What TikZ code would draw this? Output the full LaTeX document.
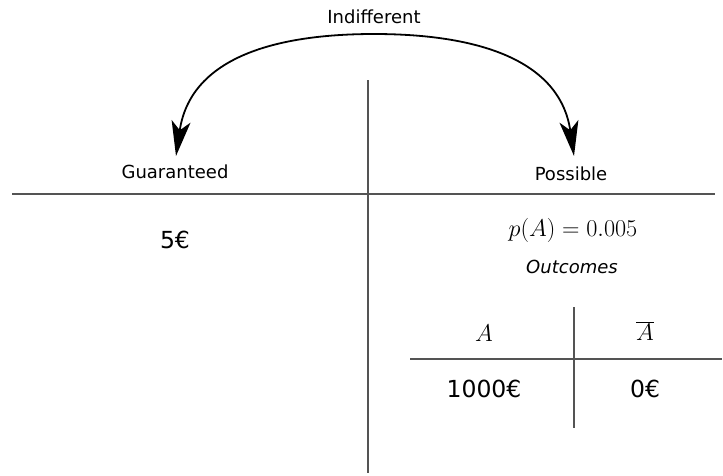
\documentclass[tikz,border=0pt]{standalone}
\usepackage{fontspec}
\setmainfont{DejaVu Sans}
\usetikzlibrary{arrows.meta}
\newcommand{\mbig}[1]{\scalebox{1.4}{$#1$}}
\begin{document}
\begin{tikzpicture}[x=1pt,y=-1pt,
  rule/.style={draw=black!67,line width=1.6pt},
  small/.style={font=\fontsize{18}{22}\selectfont},
  big/.style={font=\fontsize{23.5}{28}\selectfont},
  mathtxt/.style={font=\fontsize{17.28}{21}\selectfont},
  curved/.style={draw=black,line width=1.8pt,{Stealth[length=35pt,width=19pt,inset=9pt]}-{Stealth[length=35pt,width=19pt,inset=9pt]}}]
\useasboundingbox (0,0) rectangle (723,475);
% main cross
\coordinate (hl) at (12,194);
\coordinate (hr) at (715,194);
\coordinate (vt) at (368,80);
\coordinate (vb) at (368,473);
\draw[rule] (hl) -- (hr);
\draw[rule] (vt) -- (vb);
% labels
\node[small] (ind) at (374,17) {Indifferent};
\node[small] (gua) at (175,172) {Guaranteed};
\node[small] (pos) at (571,174) {Possible};
% arc
\coordinate (la) at (176,156);
\coordinate (ra) at (574,156);
\coordinate (top) at (374,34);
\draw[curved] (la) .. controls (190,60) and (270,34) .. (top) .. controls (478,34) and (560,60) .. (ra);
% left column
\node[big] (five) at (175,240) {5€};
% right column
\node[mathtxt] (prob) at (573,230) {\mbig{p(A)=0.005}};
\node[font=\fontsize{18}{22}\selectfont\itshape] (out) at (572,267) {Outcomes};
% table
\coordinate (tl) at (410,359);
\coordinate (tr) at (722,359);
\coordinate (tt) at (574,307);
\coordinate (tb) at (574,428);
\draw[rule] (tl) -- (tr);
\draw[rule] (tt) -- (tb);
\node[mathtxt] (a) at (484,333) {\mbig{A}};
\node[mathtxt] (abar) at (645,331) {\mbig{\overline{A}}};
\node[big] (thou) at (484,389) {1000€};
\node[big] (zero) at (645,389) {0€};
\end{tikzpicture}
\end{document}
